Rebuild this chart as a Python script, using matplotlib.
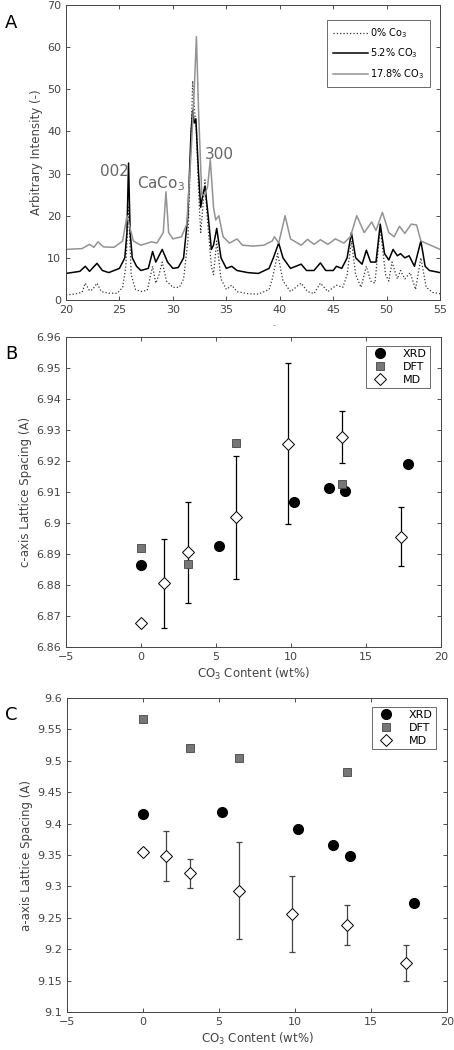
import numpy as np
import matplotlib
matplotlib.use("Agg")
import matplotlib.pyplot as plt

# ---- panel A: XRD spectra (2theta, intensity) ----
x0 = [20, 20.8, 21.5, 21.8, 22.2, 22.5, 22.9, 23.3, 24, 24.8, 25.3, 25.6, 25.85, 26.1, 26.5,
      27, 27.6, 28.1, 28.4, 28.7, 29, 29.4, 30, 30.6, 31, 31.4, 31.7, 31.85, 32.0, 32.2,
      32.4, 32.6, 32.8, 33.0, 33.2, 33.6, 33.8, 34.1, 34.5, 35, 35.5, 36, 37, 38, 39,
      39.3, 39.8, 40.3, 41, 42, 42.6, 43.2, 43.8, 44.5, 45.3, 45.9, 46.3, 46.7, 47.1,
      47.6, 48.1, 48.5, 48.9, 49.4, 49.9, 50.2, 50.5, 51, 51.3, 51.7, 52.2, 52.7, 53.2,
      53.7, 54.3, 55]
y0 = [1.2, 1.4, 1.8, 4.0, 2.2, 2.5, 4.0, 2.0, 1.6, 1.6, 3.0, 8.0, 22.0, 6.0, 2.5,
      2.0, 2.3, 8.0, 4.0, 6.0, 9.0, 4.5, 3.0, 3.0, 5.0, 14.0, 38.0, 52.0, 46.0, 40.0,
      26.0, 16.0, 22.0, 28.5, 20.0, 8.0, 6.0, 14.0, 5.0, 2.5, 3.5, 2.0, 1.5, 1.4, 2.5,
      5.0, 11.0, 4.5, 2.0, 4.0, 2.0, 1.5, 4.0, 2.0, 3.5, 3.0, 6.0, 14.0, 6.0,
      3.0, 8.0, 4.5, 4.0, 17.0, 6.0, 4.5, 9.0, 5.0, 7.0, 5.0, 6.5, 2.5, 10.0,
      3.0, 1.8, 1.5]

x5 = [20, 21.3, 21.8, 22.2, 22.9, 23.4, 24, 25, 25.5, 25.7, 25.85, 26.0, 26.2, 26.6,
      27, 27.7, 28.1, 28.4, 29.0, 29.5, 30, 30.5, 31, 31.4, 31.7, 31.85, 32.0, 32.15,
      32.4, 32.6, 32.8, 33.0, 33.3, 33.6, 33.8, 34.1, 34.5, 35, 35.5, 36, 37, 38, 39,
      39.4, 39.9, 40.3, 41, 42, 42.5, 43.2, 43.8, 44.3, 45, 45.3, 45.8, 46.3, 46.7,
      47.1, 47.7, 48.1, 48.5, 49, 49.4, 49.8, 50.2, 50.6, 51, 51.3, 51.7, 52.1, 52.6,
      53.2, 53.6, 54, 55]
y5 = [6.3, 6.8, 8.0, 6.8, 8.7, 7.0, 6.5, 7.5, 10.0, 16.0, 32.5, 16.0, 10.0, 8.0,
      7.0, 7.5, 11.5, 9.0, 12.0, 9.0, 7.5, 7.7, 10.0, 20.0, 40.0, 45.0, 42.0, 43.0,
      30.0, 22.0, 25.0, 27.0, 20.0, 12.0, 13.0, 17.0, 10.0, 7.5, 8.0, 7.0, 6.5, 6.3, 7.5,
      10.0, 13.5, 10.0, 7.5, 8.5, 7.0, 7.0, 8.8, 7.0, 7.0, 8.0, 7.5, 10.0, 16.0,
      10.0, 8.5, 11.8, 9.0, 9.0, 18.0, 11.0, 9.5, 12.0, 10.5, 11.0, 10.0, 10.5, 8.0,
      14.0, 8.0, 7.0, 6.5]

x17 = [20, 21.5, 22.2, 22.6, 23.0, 23.5, 24.5, 25.3, 25.7, 26.0, 26.3, 27, 28, 28.5,
       29.1, 29.35, 29.6, 30, 30.8, 31.3, 31.7, 32.0, 32.2, 32.4, 32.7, 33.0, 33.25,
       33.5, 33.8, 34.0, 34.3, 34.7, 35.3, 36, 36.5, 37.5, 38.5, 39.3, 39.5, 39.9,
       40.5, 41, 42, 42.6, 43.2, 43.8, 44.5, 45.2, 46, 46.6, 47.2, 47.9, 48.6, 49,
       49.6, 50.2, 50.7, 51.2, 51.7, 52.3, 52.8, 53.2, 55]
y17 = [12.0, 12.2, 13.2, 12.5, 13.8, 12.6, 12.5, 14.0, 20.0, 17.0, 14.0, 13.0, 13.8, 13.5,
       16.0, 25.7, 16.0, 14.5, 15.0, 18.0, 35.0, 50.0, 62.5, 45.0, 25.0, 25.0, 27.0,
       33.3, 22.0, 19.0, 20.0, 15.0, 13.5, 14.5, 13.0, 12.8, 13.0, 14.0, 15.0, 13.5,
       20.0, 14.5, 13.0, 14.4, 13.2, 14.3, 13.2, 14.5, 13.5, 15.0, 20.0, 16.0, 18.5, 16.5,
       20.8, 16.0, 15.0, 17.5, 15.8, 18.0, 17.8, 14.0, 12.0]

# ---- panels B and C: lattice spacing vs CO3 content ----
xrd_x = [0, 5.2, 10.2, 12.5, 13.6, 17.8]
xrd_c = [6.8865, 6.8926, 6.9068, 6.9113, 6.9104, 6.9191]
xrd_a = [9.416, 9.418, 9.391, 9.366, 9.349, 9.274]

dft_x = [0, 3.1, 6.3, 13.4]
dft_c = [6.8918, 6.8868, 6.9258, 6.9125]
dft_a = [9.5665, 9.521, 9.505, 9.482]

md_x = [0, 1.5, 3.1, 6.3, 9.8, 13.4, 17.3]
md_c = [6.8678, 6.8805, 6.8905, 6.9018, 6.9256, 6.9277, 6.8956]
md_c_err = [0.001, 0.0145, 0.0164, 0.0198, 0.026, 0.0084, 0.0095]
md_a = [9.355, 9.348, 9.321, 9.293, 9.256, 9.238, 9.178]
md_a_err = [0.004, 0.04, 0.023, 0.077, 0.06, 0.032, 0.029]

tick_col = '#333333'
plt.rcParams['font.family'] = 'DejaVu Sans'
plt.rcParams['font.size'] = 8

fig = plt.figure(figsize=(4.54, 10.5), dpi=100)


def style(ax):
    ax.tick_params(direction='in', top=True, right=True, length=3, width=0.6,
                   colors=tick_col, labelcolor='#444444', labelsize=8)
    for s in ax.spines.values():
        s.set_color('#444444')
        s.set_linewidth(0.7)


# panel A
ax1 = fig.add_axes([0.1454, 0.7143, 0.824, 0.2809])
ax1.plot(x0, y0, ':', color='#333333', lw=0.9, label='0% Co$_3$')
ax1.plot(x5, y5, '-', color='black', lw=1.1, label='5.2% CO$_3$')
ax1.plot(x17, y17, '-', color='#939393', lw=1.1, label='17.8% CO$_3$')
ax1.set_xlim(20, 55)
ax1.set_ylim(0, 70)
ax1.set_xticks(np.arange(20, 56, 5))
ax1.set_yticks(np.arange(0, 71, 10))
ax1.set_ylabel('Arbitrary Intensity (-)', color='#444444', fontsize=8.5, labelpad=3)
style(ax1)
ax1.text(23.2, 29.5, '002', fontsize=11, color='#666666')
ax1.text(26.6, 26.5, 'CaCo$_3$', fontsize=11, color='#666666')
ax1.text(33.0, 33.5, '300', fontsize=11, color='#666666')
leg = ax1.legend(loc='upper right', bbox_to_anchor=(0.985, 0.965), fontsize=7,
                 frameon=True, fancybox=False, edgecolor='#444444',
                 handlelength=3.6, handletextpad=0.2, borderpad=0.6, labelspacing=0.7)
leg.get_frame().set_linewidth(0.7)
fig.text(274 / 454, 1 - 326 / 1050, '-', fontsize=6, color='#888888', ha='center', va='center')
fig.text(5 / 454, 1 - 23 / 1050, 'A', fontsize=13, va='center')


def scatter_panel(rect, yc, dft_y, md_y, md_err, ylim, yticks, ylabel, letter, ecol):
    ax = fig.add_axes(rect)
    ax.errorbar(md_x, md_y, yerr=md_err, fmt='none', ecolor=ecol, elinewidth=0.9,
                capsize=2, capthick=0.9, zorder=2)
    ax.plot(xrd_x, yc, 'o', color='black', ms=7, ls='none', label='XRD', zorder=3)
    ax.plot(dft_x, dft_y, 's', color='#777777', mec='#444444', mew=0.6, ms=5.5,
            ls='none', label='DFT', zorder=3)
    ax.plot(md_x, md_y, 'D', mfc='white', mec='black', mew=0.7, ms=6,
            ls='none', label='MD', zorder=4)
    ax.set_xlim(-5, 20)
    ax.set_ylim(*ylim)
    ax.set_xticks([-5, 0, 5, 10, 15, 20])
    ax.set_yticks(yticks)
    ax.set_yticklabels(['%g' % round(v, 3) for v in yticks])
    ax.set_xlabel('CO$_3$ Content (wt%)', color='#444444', fontsize=8.5, labelpad=3)
    ax.set_ylabel(ylabel, color='#444444', fontsize=8.5, labelpad=3)
    style(ax)
    lg = ax.legend(loc='upper right', bbox_to_anchor=(0.985, 0.99), fontsize=8,
                   frameon=True, fancybox=False, edgecolor='#444444',
                   handletextpad=1.0, borderpad=0.3, labelspacing=0.25)
    lg.get_frame().set_linewidth(0.7)
    fig.text(5 / 454, rect[1] + rect[3] - 17 / 1050, letter, fontsize=13, va='center')
    return ax


scatter_panel([0.1454, 0.3838, 0.826, 0.2952], xrd_c, dft_c, md_c, md_c_err,
              (6.86, 6.96), np.arange(6.86, 6.9601, 0.01), 'c-axis Lattice Spacing (A)',
              'B', 'black')
scatter_panel([0.1476, 0.0362, 0.837, 0.299], xrd_a, dft_a, md_a, md_a_err,
              (9.1, 9.6), np.arange(9.1, 9.6001, 0.05), 'a-axis Lattice Spacing (A)',
              'C', '#444444')

fig.savefig('out.png', dpi=100)
